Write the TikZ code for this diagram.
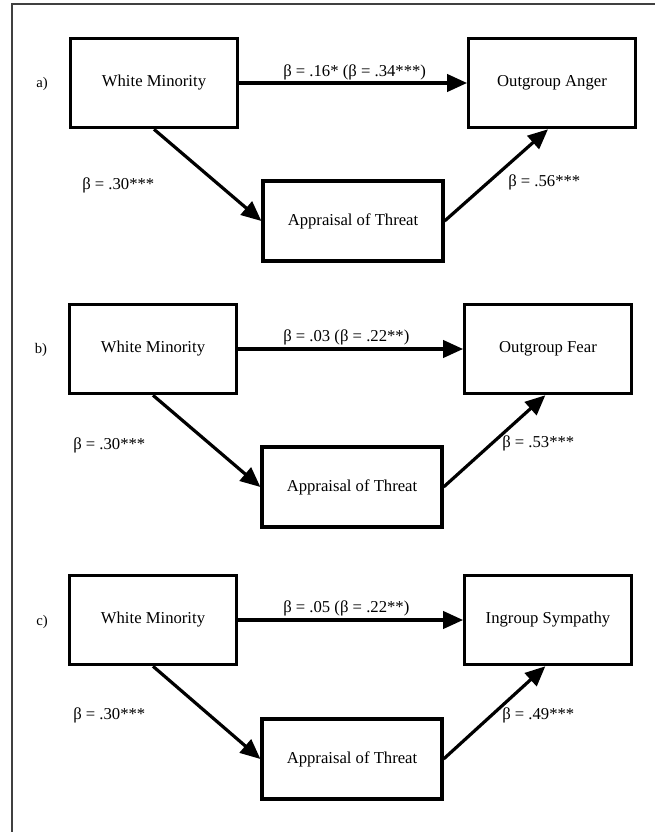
\documentclass[tikz,border=0pt]{standalone}
\usepackage{fontspec}
\setmainfont{Liberation Serif}
\usetikzlibrary{arrows.meta}
\tikzset{
    mybox/.style = {rectangle, line width=2.4pt, draw=black, fill=white, align=center, minimum width=125pt, minimum height=67pt, font=\fontsize{12.5}{14}\selectfont},
    myboxt/.style = {mybox, minimum width=135pt, minimum height=60pt},
    edgen/.style = {-{Triangle[length=15pt,width=13pt]}, line width=2.4pt},
    coef/.style = {anchor=west, inner sep=0pt, font=\fontsize{12.5}{14}\selectfont},
    panel/.style = {inner sep=0pt, font=\fontsize{11}{13}\selectfont},
    frame/.style = {line width=1.2pt, draw=black!75}
}

\begin{document}
\begin{tikzpicture}[x=0.75pt,y=-0.75pt]
\useasboundingbox (0,0) rectangle (655,832);
\draw[frame] (12,832) -- (12,4) -- (655,4);
% a) anger
\node[panel] at (42, 84) (pa) {a)};
\node[mybox] at (154, 83) (wma) {White Minority};
\node[mybox] at (552, 83) (oga) {Outgroup Anger};
\node[myboxt] at (353, 221) (apa) {Appraisal of Threat};
\node[coef] at (283, 72) (ca1) {β = .16* (β = .34***)};
\node[coef] at (82, 185) (ca2) {β = .30***};
\node[coef] at (508, 182) (ca3) {β = .56***};
%
\draw[edgen] (wma) -- (oga);
\draw[edgen] (wma.south) -- (apa.west);
\draw[edgen] (apa.east) -- ([xshift=-3pt]oga.south);
% b) fear
\node[panel] at (41, 350) (pb) {b)};
\node[mybox] at (153, 349) (wmb) {White Minority};
\node[mybox] at (548, 349) (ogb) {Outgroup Fear};
\node[myboxt] at (352, 487) (apb) {Appraisal of Threat};
\node[coef] at (283, 337) (cb1) {β = .03 (β = .22**)};
\node[coef] at (73, 445) (cb2) {β = .30***};
\node[coef] at (502, 443) (cb3) {β = .53***};
%
\draw[edgen] (wmb) -- (ogb);
\draw[edgen] (wmb.south) -- (apb.west);
\draw[edgen] (apb.east) -- ([xshift=-2pt]ogb.south);
% c) sympathy
\node[panel] at (42, 622) (pc) {c)};
\node[mybox] at (153, 620) (wmc) {White Minority};
\node[mybox] at (548, 620) (igc) {Ingroup Sympathy};
\node[myboxt] at (352, 759) (apc) {Appraisal of Threat};
\node[coef] at (283, 608) (cc1) {β = .05 (β = .22**)};
\node[coef] at (73, 715) (cc2) {β = .30***};
\node[coef] at (502, 715) (cc3) {β = .49***};
%
\draw[edgen] (wmc) -- (igc);
\draw[edgen] (wmc.south) -- (apc.west);
\draw[edgen] (apc.east) -- ([xshift=-2pt]igc.south);

\end{tikzpicture}
\end{document}
